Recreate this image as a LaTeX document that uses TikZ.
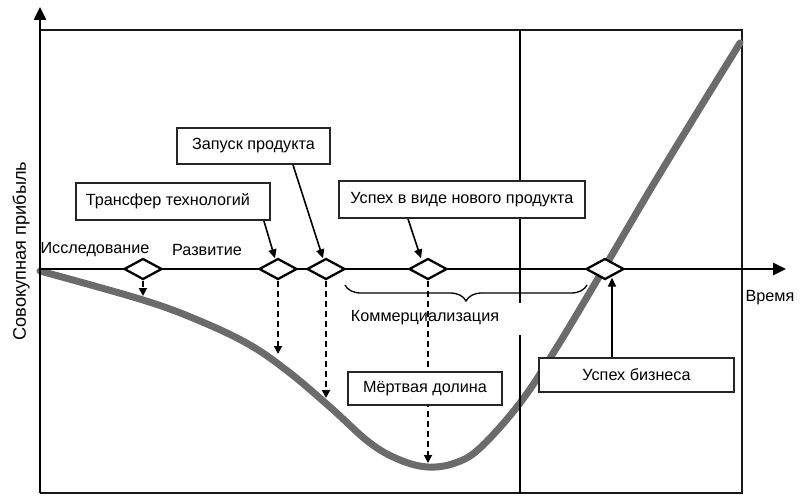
\documentclass[tikz,border=0pt]{standalone}
\usepackage{fontspec}
\setmainfont{Liberation Sans}
\usetikzlibrary{shapes.geometric,arrows.meta,decorations.pathreplacing,calc}
\begin{document}
\begin{tikzpicture}[x=1pt,y=-1pt,
  txt/.style={font=\fontsize{16.2}{19}\selectfont, inner sep=0pt},
  lbox/.style={txt, draw=black!85, line width=1.8pt, fill=white},
  dmd/.style={diamond, draw=black, line width=2.3pt, fill=white, minimum width=38pt, minimum height=21pt, inner sep=0pt},
  axis/.style={line width=2.5pt, -{Triangle[length=13pt,width=12pt]}},
  frame/.style={line width=2.2pt, black!90},
  dasharrow/.style={line width=1.8pt, dash pattern=on 6pt off 4pt, -{Triangle[length=8pt,width=8pt]}},
  solarrow/.style={line width=1.6pt, -{Triangle[length=9pt,width=8pt]}},
  curve/.style={line width=7pt, color=black!58, line cap=round}
]
\useasboundingbox (0,0) rectangle (800,503);
% frame
\coordinate (tl) at (40,30);
\coordinate (tr) at (742,30);
\coordinate (br) at (742,493);
\coordinate (bl) at (40,493);
\draw[frame] (tl) -- (tr) -- (br) -- (bl);
% curve
\draw[curve] plot[smooth, tension=0.6] coordinates {(40,271) (143,300) (200,321) (250,345) (290,373) (330,407) (370,443) (400,460) (428,467) (455,463) (480,448) (520,403) (557,347) (603,270) (650,190) (695,116) (740,43)};
% vertical separator
\coordinate (v1) at (520,30);
\coordinate (v2) at (520,303);
\coordinate (v3) at (520,335);
\coordinate (v4) at (520,493);
\draw[line width=1.5pt] (v1) -- (v2) (v3) -- (v4);
% axes
\coordinate (o) at (40,269);
\coordinate (xe) at (786,269);
\coordinate (ye) at (40,7);
\draw[axis] (bl) -- (ye);
\draw[axis] (o) -- (xe);
% diamonds
\node[dmd] (d1) at (143,269) {};
\node[dmd] (d2) at (278,269) {};
\node[dmd] (d3) at (326,269) {};
\node[dmd] (d4) at (428,269) {};
\node[dmd] (d5) at (605,269) {};
% dashed arrows
\coordinate (e1) at (143,296);
\coordinate (e2) at (278,354);
\coordinate (e3) at (326,398);
\coordinate (e4) at (428,463);
\draw[dasharrow] (d1.south) -- (e1);
\draw[dasharrow] (d2.south) -- (e2);
\draw[dasharrow] (d3.south) -- (e3);
\draw[dasharrow] (d4.south) -- (e4);
% boxes
\node[lbox, minimum width=194pt, minimum height=37pt] (tt) at (173,201.5) {\raisebox{8pt}{}\hspace*{-10pt}Трансфер технологий};
\node[lbox, minimum width=153pt, minimum height=36pt] (zp) at (253.5,146) {Запуск продукта};
\node[lbox, minimum width=246pt, minimum height=37pt] (un) at (462,199.5) {\raisebox{8pt}{}Успех в виде нового продукта};
\node[lbox, minimum width=154pt, minimum height=33pt] (md) at (425,388.5) {Мёртвая долина};
\node[lbox, minimum width=195pt, minimum height=34pt] (ub) at (636.5,375) {Успех бизнеса};
% solid arrows
\draw[solarrow] ($(tt.south east)+(-7,0)$) -- ($(d2.north)+(-3,1)$);
\draw[solarrow] ($(zp.south)+(39.5,0)$) -- ($(d3.north)+(-3,1)$);
\draw[solarrow] ($(un.south)+(-54,0)$) -- ($(d4.north)+(-7,1)$);
\draw[solarrow] ($(ub.north)+(-24.5,0)$) -- ($(d5.south)+(7,-3)$);
% brace
\coordinate (b1) at (345,285);
\coordinate (b2) at (587,285);
\draw[line width=1.3pt, decorate, decoration={brace, mirror, amplitude=16pt}] (b1) -- (b2);
% labels
\node[txt] (ls) at (95,250) {Исследование};
\node[txt] (lr) at (207,250) {Развитие};
\node[txt] (lk) at (425,318) {Коммерциализация};
\node[txt] (lt) at (770,298) {Время};
\node[inner sep=0pt, font=\fontsize{18.2}{22}\selectfont, rotate=90] (ly) at (21,251) {Совокупная прибыль};
\end{tikzpicture}
\end{document}
